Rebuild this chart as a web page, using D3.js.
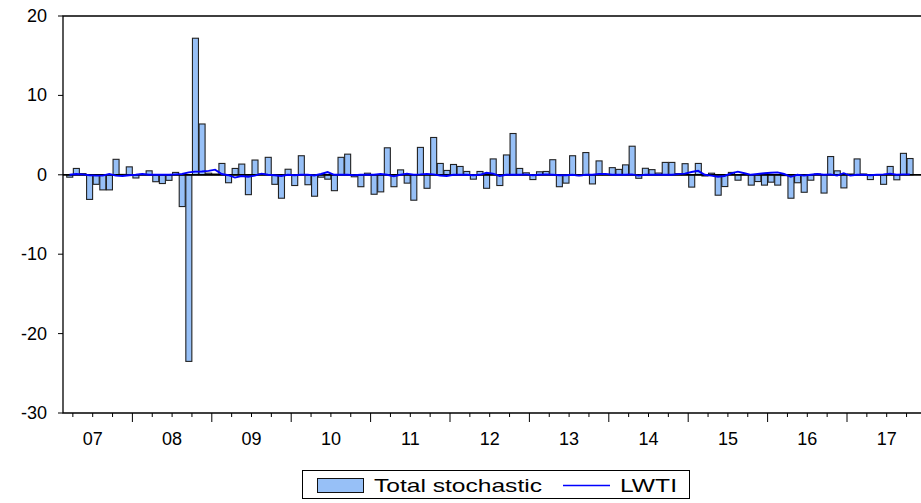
<!DOCTYPE html>
<html><head><meta charset="utf-8">
<script src="https://cdn.jsdelivr.net/npm/d3@7"></script>
<style>
html,body{margin:0;padding:0;background:#fff;}
svg{display:block;font-family:"Liberation Sans",Arial,sans-serif;}
</style></head>
<body><svg id="chart" width="921" height="503"></svg>
<script>
// Monthly observations, first = 2007M03 (month index 2 counted from 2007M01)
const firstMonthIndex = 2;
const totalStochastic = [
 -0.3, 0.8, 0.15, -3.1, -1.2, -1.9, -1.9, 1.95, 0.05, 1.0,
 -0.4, 0.05, 0.5, -0.87, -1.1, -0.7, 0.3, -4.0, -23.5, 17.2,
 6.4, 0.2, 0.1, 1.43, -1.0, 0.8, 1.35, -2.5, 1.86, 0.1,
 2.2, -1.2, -2.95, 0.7, -1.35, 2.4, -1.25, -2.7, -0.3, -0.55,
 -2.0, 2.2, 2.6, -0.25, -1.5, 0.2, -2.45, -2.15, 3.4, -1.5,
 0.62, -1.05, -3.2, 3.45, -1.7, 4.7, 1.43, 0.55, 1.3, 1.05,
 0.42, -0.55, 0.42, -1.7, 2.0, -1.35, 2.5, 5.2, 0.8, 0.25,
 -0.6, 0.38, 0.42, 1.9, -1.5, -1.05, 2.4, -0.1, 2.8, -1.15,
 1.75, 0.05, 0.9, 0.68, 1.25, 3.6, -0.44, 0.82, 0.65, 0.22,
 1.56, 1.56, 0.15, 1.4, -1.55, 1.43, -0.15, 0.2, -2.57, -1.48,
 0.3, -0.68, 0.05, -1.3, -0.85, -1.3, -0.93, -1.3, -0.1, -2.95,
 -1.0, -2.2, -0.68, 0.1, -2.3, 2.3, 0.5, -1.65, 0.1, 2.0,
 0.1, -0.6, 0.0, -1.2, 1.05, -0.63, 2.7, 2.05
];
const lwti = [
 0, 0.1, 0.05, -0.05, -0.1, -0.1, 0.1, -0.1, -0.15, -0.05,
 0.0, 0.1, 0.0, 0.0, 0.0, 0.0, 0.05, 0.1, 0.3, 0.4,
 0.42, 0.5, 0.65, 0.1, -0.05, -0.35, -0.15, -0.25, -0.1, 0.15,
 0.0, -0.05, -0.15, 0.0, -0.05, 0.0, 0.0, -0.08, 0.1, 0.35,
 0.0, 0.0, 0.0, -0.05, 0.0, 0.0, 0.0, 0.1, 0.0, -0.2,
 0.0, 0.15, 0.0, 0.05, 0.12, 0.05, -0.08, -0.15, 0.0, 0.0,
 0.0, -0.05, 0.0, 0.25, 0.15, -0.15, 0.0, 0.0, 0.0, 0.05,
 -0.05, 0.0, 0.05, 0.0, -0.05, -0.05, 0.0, -0.1, 0.0, 0.0,
 0.1, 0.12, 0.0, 0.0, 0.0, 0.05, -0.1, 0.0, 0.0, 0.0,
 0.0, 0.0, 0.08, 0.15, 0.35, 0.5, 0.0, -0.1, -0.25, -0.15,
 0.17, 0.4, 0.2, 0.0, 0.1, 0.2, 0.25, 0.3, 0.1, -0.25,
 0.0, -0.1, 0.0, 0.1, 0.0, 0.05, -0.1, 0.2, -0.1, 0.0,
 0.0, -0.05, 0.0, 0.05, 0.15, 0.0, 0.05, 0.05
];
const yTicks = [-30, -20, -10, 0, 10, 20];
const yearLabels = ["07","08","09","10","11","12","13","14","15","16","17"];
const legendLabels = ["Total stochastic", "LWTI"];

const svg = d3.select("#chart");
const plot = {left: 63, top: 16, right: 921, bottom: 413};

// month index scale (0 = 2007M01), 11 years
const x = d3.scaleLinear().domain([0, 132]).range([53, 926.4]);
const y = d3.scaleLinear().domain([-30, 20]).range([plot.bottom, plot.top]);

const barFill = "#97C0F7";
const data = totalStochastic.map((v, i) => ({m: firstMonthIndex + i, v, l: lwti[i]}));

svg.append("defs").append("clipPath").attr("id", "clip")
  .append("rect").attr("x", plot.left).attr("y", plot.top)
  .attr("width", plot.right - plot.left).attr("height", plot.bottom - plot.top);

const g = svg.append("g").attr("clip-path", "url(#clip)");

// bars
g.selectAll("rect.bar").data(data).enter().append("rect")
  .attr("class", "bar")
  .attr("x", d => x(d.m) + 0.5)
  .attr("width", d => x(d.m + 1) - x(d.m) - 0.6)
  .attr("y", d => Math.min(y(d.v), y(0)))
  .attr("height", d => Math.abs(y(d.v) - y(0)))
  .attr("fill", barFill)
  .attr("stroke", "#222")
  .attr("stroke-width", 1.1);

// zero line
g.append("line")
  .attr("x1", plot.left).attr("x2", plot.right)
  .attr("y1", y(0)).attr("y2", y(0))
  .attr("stroke", "#000").attr("stroke-width", 1.8);

// LWTI line
g.append("path").datum(data)
  .attr("fill", "none").attr("stroke", "#0000FF").attr("stroke-width", 1.9)
  .attr("d", d3.line().x(d => x(d.m + 0.5)).y(d => y(d.l)));

// frame
svg.append("path")
  .attr("d", `M${plot.right+1},${plot.top}H${plot.left}V${plot.bottom}H${plot.right+1}`)
  .attr("fill", "none").attr("stroke", "#000").attr("stroke-width", 1.3);

// y axis
const yAxis = svg.append("g");
yAxis.selectAll("line").data(yTicks).enter().append("line")
  .attr("x1", plot.left - 5).attr("x2", plot.left)
  .attr("y1", d => y(d)).attr("y2", d => y(d))
  .attr("stroke", "#000").attr("stroke-width", 1);
yAxis.selectAll("text").data(yTicks).enter().append("text")
  .attr("x", plot.left - 16).attr("y", d => y(d) + 6)
  .attr("text-anchor", "end").attr("font-size", 18).attr("fill", "#000")
  .text(d => String(d));

// x axis ticks (quarters minor, years major)
const xAxis = svg.append("g");
const qTicks = d3.range(0, 133, 3).filter(m => x(m) > plot.left + 2 && x(m) < plot.right);
xAxis.selectAll("line").data(qTicks).enter().append("line")
  .attr("x1", d => x(d)).attr("x2", d => x(d))
  .attr("y1", plot.bottom).attr("y2", d => plot.bottom + (d % 12 === 0 ? 9 : 4))
  .attr("stroke", "#000").attr("stroke-width", 1);
xAxis.selectAll("text").data(yearLabels).enter().append("text")
  .attr("x", (d, i) => x(i * 12 + 6)).attr("y", 445)
  .attr("text-anchor", "middle").attr("font-size", 18).attr("fill", "#000")
  .text(d => d);

// legend
const lg = svg.append("g");
lg.append("rect").attr("x", 302.5).attr("y", 470.5).attr("width", 387).attr("height", 28)
  .attr("fill", "#fff").attr("stroke", "#000").attr("stroke-width", 1);
lg.append("rect").attr("x", 317.5).attr("y", 478.5).attr("width", 46).attr("height", 14)
  .attr("fill", barFill).attr("stroke", "#111").attr("stroke-width", 1);
lg.append("text").attr("x", 374).attr("y", 492).attr("font-size", 19)
  .attr("textLength", 168).attr("lengthAdjust", "spacingAndGlyphs")
  .text(legendLabels[0]);
lg.append("line").attr("x1", 563).attr("x2", 610).attr("y1", 485.5).attr("y2", 485.5)
  .attr("stroke", "#0000FF").attr("stroke-width", 1.5);
lg.append("text").attr("x", 620).attr("y", 492).attr("font-size", 19)
  .attr("textLength", 57).attr("lengthAdjust", "spacingAndGlyphs")
  .text(legendLabels[1]);
</script></body></html>
